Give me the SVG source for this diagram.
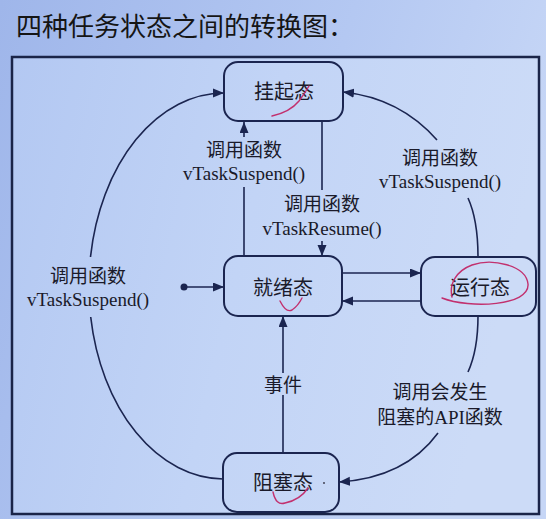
<svg xmlns="http://www.w3.org/2000/svg" width="546" height="519" viewBox="0 0 546 519">
<defs>
<linearGradient id="bg" x1="0" y1="0" x2="1" y2="0.3">
<stop offset="0" stop-color="#9FB6EA"/>
<stop offset="0.6" stop-color="#B4C8F2"/>
<stop offset="1" stop-color="#C6D6F6"/>
</linearGradient>
<linearGradient id="panel" x1="0" y1="0" x2="1" y2="0.2">
<stop offset="0" stop-color="#B3C8F2"/>
<stop offset="0.5" stop-color="#C2D4F6"/>
<stop offset="1" stop-color="#CCDBF7"/>
</linearGradient>
<marker id="arr" markerUnits="userSpaceOnUse" markerWidth="12" markerHeight="10" refX="11" refY="4.5" orient="auto">
<path d="M0,0 L11,4.5 L0,9 z" fill="#1B2550"/>
</marker>
<style>
.node{fill:none;stroke:#1B2550;stroke-width:2}
.ntext{font-family:"Noto Sans CJK SC","Liberation Sans",sans-serif;font-size:20px;fill:#1A1A2A;text-anchor:middle}
.lbl{font-family:"Liberation Serif","Noto Sans CJK SC",serif;font-size:19px;fill:#1A1A2A;text-anchor:middle}
.con{fill:none;stroke:#1B2550;stroke-width:1.6}
.ink{fill:none;stroke:#C2306E;stroke-width:1.4;stroke-linecap:round}
</style>
</defs>
<rect width="546" height="519" fill="url(#bg)"/>
<text x="16" y="36" font-family="Noto Sans CJK SC, sans-serif" font-size="26" fill="#151515">四种任务状态之间的转换图：</text>
<rect x="12" y="57" width="527" height="457" fill="url(#panel)" stroke="#1A2448" stroke-width="2.5"/>

<g id="connectors">
<path class="con" d="M244 256 L244 187"/>
<path class="con" d="M244 137 L244 122" marker-end="url(#arr)"/>
<path class="con" d="M322 121 L322 190"/>
<path class="con" d="M322 241 L322 256" marker-end="url(#arr)"/>
<path class="con" d="M342 273 L421 273" marker-end="url(#arr)"/>
<path class="con" d="M421 301 L342 301" marker-end="url(#arr)"/>
<circle cx="184" cy="287" r="3.5" fill="#1B2550"/>
<path class="con" d="M184 287 L224 287" marker-end="url(#arr)"/>
<path class="con" d="M283 453 L283 395"/>
<path class="con" d="M283 373 L283 316" marker-end="url(#arr)"/>
<path class="con" d="M478 257 Q478 220 468 198"/>
<path class="con" d="M437 140 Q400 98 343 92" marker-end="url(#arr)"/>
<path class="con" d="M478 316 Q478 350 468 372"/>
<path class="con" d="M438 433 Q405 478 339 482" marker-end="url(#arr)"/>
<path class="con" d="M223 479 A135 193 0 0 1 90.7 317"/>
<path class="con" d="M90.5 257 A135 193 0 0 1 224 93" marker-end="url(#arr)"/>
</g>

<g id="labels">
<text class="lbl" x="88" y="283">调用函数</text>
<text class="lbl" x="88" y="306">vTaskSuspend()</text>
<text class="lbl" x="244" y="157">调用函数</text>
<text class="lbl" x="244" y="180">vTaskSuspend()</text>
<text class="lbl" x="322" y="211">调用函数</text>
<text class="lbl" x="322" y="235">vTaskResume()</text>
<text class="lbl" x="440" y="165">调用函数</text>
<text class="lbl" x="440" y="188">vTaskSuspend()</text>
<text class="lbl" x="440" y="399">调用会发生</text>
<text class="lbl" x="440" y="424">阻塞的API函数</text>
<text class="lbl" x="283" y="392">事件</text>
</g>

<g id="suspended">
<rect class="node" x="224" y="62" width="119" height="59" rx="14"/>
<text class="ntext" x="284" y="99">挂起态</text>
</g>
<g id="ready">
<rect class="node" x="224" y="256" width="118" height="60" rx="14"/>
<text class="ntext" x="283" y="295">就绪态</text>
</g>
<g id="running">
<rect class="node" x="421" y="257" width="115" height="59" rx="14"/>
<text class="ntext" x="480" y="295">运行态</text>
</g>
<g id="blocked">
<rect class="node" x="223" y="453" width="116" height="59" rx="14"/>
<text class="ntext" x="283" y="490">阻塞态</text>
</g>

<g id="annotations">
<path class="ink" d="M272 116 Q290 112 299 101 Q305 93 309 86"/>
<path class="ink" d="M280 301 Q286 313 292 310 Q298 306 302 298"/>
<path class="ink" d="M442 298 C470 309 530 306 528 284 C526 265 492 258 472 265 C456 271 449 284 452 297"/>
<path class="ink" d="M273 492 Q276 506 285 503 Q300 500 308 488"/>
<circle cx="324" cy="483" r="0.9" fill="#334"/>
</g>
</svg>
